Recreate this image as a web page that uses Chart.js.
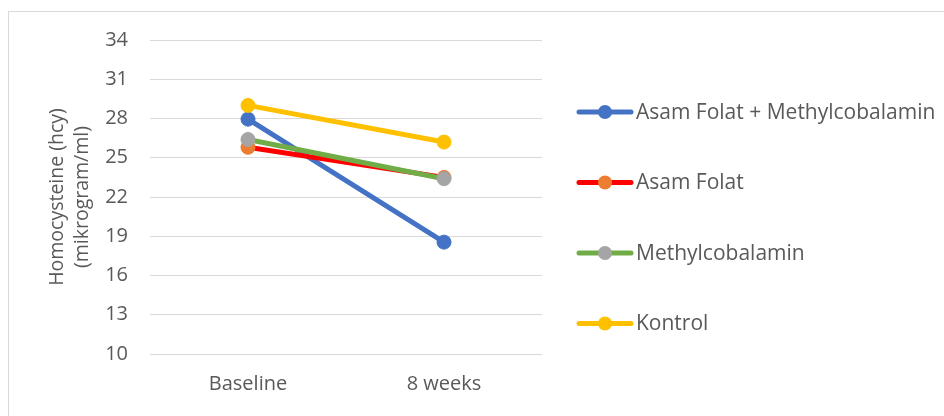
<!DOCTYPE html>
<html>
<head>
<meta charset="utf-8">
<script src="https://cdn.jsdelivr.net/npm/chart.js@4"></script>
<style>
  body { margin: 0; background: #fff; }
</style>
</head>
<body>
<canvas id="canvas1" width="944" height="416"></canvas>
<script>
const labels = ['Baseline', '8 weeks'];
const seriesNames = ['Asam Folat + Methylcobalamin', 'Asam Folat', 'Methylcobalamin', 'Kontrol'];
const asamFolatMethyl = [27.95, 18.55];
const asamFolat = [25.8, 23.5];
const methylcobalamin = [26.4, 23.4];
const kontrol = [29.0, 26.2];
const yTicks = [10, 13, 16, 19, 22, 25, 28, 31, 34];

const lineColors = ['#4472C4', '#FF0000', '#70AD47', '#FFC000'];
const markerColors = ['#4472C4', '#ED7D31', '#A5A5A5', '#FFC000'];
const textColor = '#595959';
const fontFamily = "'Open Sans', sans-serif";

function makeSet(i, values) {
    return {
        label: seriesNames[i],
        data: values,
        borderColor: lineColors[i],
        backgroundColor: markerColors[i],
        pointBackgroundColor: markerColors[i],
        pointBorderColor: markerColors[i],
        pointBorderWidth: 1,
        pointRadius: 7,
        borderWidth: 5,
        borderCapStyle: 'round',
        fill: false,
        tension: 0,
        order: 4 - i
    };
}

// light frame around the chart, like the Excel chart area
const frame = {
    id: 'frame',
    beforeDraw(chart) {
        const ctx = chart.ctx;
        ctx.save();
        ctx.strokeStyle = '#d9d9d9';
        ctx.lineWidth = 1;
        ctx.strokeRect(8.5, 11.5, 2000, 2000);
        ctx.restore();
    }
};

// legend on the right: line with a marker in the middle, then the name
const sideLegend = {
    id: 'sideLegend',
    afterDraw(chart) {
        const ctx = chart.ctx;
        ctx.save();
        chart.data.datasets.forEach(function (ds, i) {
            const y = 112 + i * 70.5;
            ctx.strokeStyle = ds.borderColor;
            ctx.lineWidth = 5;
            ctx.lineCap = 'round';
            ctx.beginPath();
            ctx.moveTo(579, y);
            ctx.lineTo(631, y);
            ctx.stroke();
            ctx.fillStyle = ds.pointBackgroundColor;
            ctx.beginPath();
            ctx.arc(605, y, 7, 0, Math.PI * 2);
            ctx.fill();
            ctx.fillStyle = textColor;
            ctx.font = '21px ' + fontFamily;
            ctx.textBaseline = 'middle';
            ctx.textAlign = 'left';
            ctx.fillText(ds.label, 636, y + 1);
        });
        ctx.restore();
    }
};

const data = {
    labels: labels,
    datasets: [
        makeSet(0, asamFolatMethyl),
        makeSet(1, asamFolat),
        makeSet(2, methylcobalamin),
        makeSet(3, kontrol)
    ]
};

const config = {
    type: 'line',
    data: data,
    options: {
        responsive: false,
        animation: false,
        layout: { padding: { left: 0, right: 402, top: 40, bottom: 0 } },
        plugins: {
            legend: { display: false },
            tooltip: { enabled: false }
        },
        scales: {
            x: {
                offset: true,
                grid: { display: false, drawTicks: false },
                border: { display: false },
                ticks: {
                    color: textColor,
                    font: { family: fontFamily, size: 20 },
                    padding: 18
                },
                afterFit: function (s) { s.height = 62; }
            },
            y: {
                min: 10,
                max: 34,
                afterBuildTicks: function (s) {
                    s.ticks = yTicks.map(v => ({ value: v }));
                },
                grid: { color: '#d9d9d9', lineWidth: 1, drawTicks: false },
                border: { display: false },
                ticks: {
                    color: textColor,
                    font: { family: fontFamily, size: 20 },
                    padding: 22
                },
                title: {
                    display: true,
                    text: ['Homocysteine (hcy)', '(mikrogram/ml)'],
                    color: textColor,
                    font: { family: fontFamily, size: 19.5, lineHeight: 1.28 },
                    padding: { top: 44.5, bottom: 0 }
                },
                afterFit: function (s) { s.width = 150; }
            }
        }
    },
    plugins: [frame, sideLegend]
};

var canvas = document.getElementById('canvas1');
const chart = new Chart(canvas, config);
</script>
</body>
</html>
